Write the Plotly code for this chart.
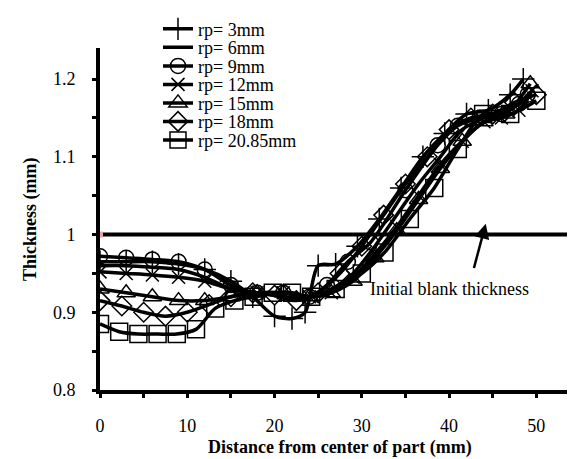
import plotly.graph_objects as go

# ---------------- data ----------------
x_rp3 = [0, 3, 6, 9, 12, 15, 17.5, 20, 22, 23.5, 25, 27, 29.5, 32, 34.5, 37, 39.5, 42, 44.5, 47, 48.5]
y_rp3 = [0.965, 0.965, 0.965, 0.962, 0.955, 0.94, 0.92, 0.895, 0.892, 0.9, 0.96, 0.962, 0.985, 1.02, 1.06, 1.1, 1.13, 1.155, 1.16, 1.18, 1.2]

x_rp6 = [0, 3, 6, 9, 12, 15, 18, 21, 24, 26.5, 29, 31.5, 34, 36.5, 39, 41.5, 44, 46, 48, 49.5]
y_rp6 = [0.96, 0.96, 0.958, 0.955, 0.945, 0.93, 0.925, 0.92, 0.92, 0.93, 0.95, 0.985, 1.025, 1.065, 1.1, 1.135, 1.15, 1.158, 1.168, 1.18]

x_rp9 = [0, 3, 6, 9, 12, 15, 18, 21, 24, 26, 28.4, 31, 35, 38.7, 41, 43.5, 46, 48, 49]
y_rp9 = [0.972, 0.97, 0.968, 0.965, 0.955, 0.935, 0.925, 0.925, 0.92, 0.935, 0.965, 0.99, 1.057, 1.115, 1.14, 1.15, 1.155, 1.168, 1.18]

x_rp12 = [0, 3, 6, 9, 12, 15, 18, 21, 24, 26.5, 29, 31.5, 34, 36.5, 39, 41.5, 44, 46, 48, 49.5]
y_rp12 = [0.952, 0.95, 0.948, 0.945, 0.94, 0.93, 0.925, 0.925, 0.92, 0.925, 0.945, 0.975, 1.01, 1.05, 1.09, 1.12, 1.145, 1.15, 1.16, 1.185]

x_rp15 = [0, 3, 6, 9, 12, 15, 18, 21, 24, 26.5, 29, 31.5, 34, 36.5, 39, 41.5, 44, 46.5, 49.3]
y_rp15 = [0.93, 0.925, 0.92, 0.915, 0.915, 0.92, 0.925, 0.925, 0.92, 0.925, 0.94, 0.97, 1.005, 1.045, 1.085, 1.12, 1.145, 1.155, 1.194]

x_rp18 = [0, 2.5, 5, 7.5, 10, 12.5, 15, 17.5, 20, 22.5, 25, 27.5, 30, 32.5, 35, 37.5, 40, 42.5, 45, 47.5, 50]
y_rp18 = [0.915, 0.908, 0.9, 0.895, 0.9, 0.91, 0.92, 0.925, 0.922, 0.915, 0.925, 0.95, 0.985, 1.025, 1.065, 1.1, 1.135, 1.15, 1.155, 1.17, 1.18]

x_rp2085 = [0, 2.2, 4.4, 6.6, 8.8, 11, 13.2, 15.4, 17.6, 19.8, 22, 24.2, 27, 30, 32.6, 35.5, 38.3, 41, 43.9, 47, 50]
y_rp2085 = [0.885, 0.875, 0.872, 0.872, 0.872, 0.878, 0.905, 0.915, 0.92, 0.925, 0.925, 0.92, 0.93, 0.95, 0.977, 1.02, 1.06, 1.11, 1.155, 1.155, 1.172]

x_blank = [0, 55]
y_blank = [1.0, 1.0]

series_names = ["rp= 3mm", "rp= 6mm", "rp= 9mm", "rp= 12mm", "rp= 15mm", "rp= 18mm", "rp= 20.85mm"]
x_ticks = [0, 10, 20, 30, 40, 50]
y_ticks = [0.8, 0.9, 1.0, 1.1, 1.2]
y_tick_text = ["0.8", "0.9", "1", "1.1", "1.2"]

# ---------------- figure ----------------
FONT = "Liberation Serif, Times New Roman, serif"
W, H = 575, 459
ML, MR, MT, MB = 92, 3, 37, 77
PW, PH = W - ML - MR, H - MT - MB

fig = go.Figure()

# initial blank thickness line
fig.add_trace(go.Scatter(
    x=x_blank, y=y_blank, mode="lines+markers", showlegend=False,
    line=dict(color="black", width=4),
    marker=dict(symbol="square", size=6, color="#e7a3aa", line=dict(width=0)),
    hoverinfo="skip"))

styles = [
    (x_rp3, y_rp3, "cross-thin-open", 16),
    (x_rp6, y_rp6, None, 0),
    (x_rp9, y_rp9, "circle-open", 15),
    (x_rp12, y_rp12, "x-thin-open", 13),
    (x_rp15, y_rp15, "triangle-up-open", 16),
    (x_rp18, y_rp18, "diamond-open", 15),
    (x_rp2085, y_rp2085, "square-open", 17),
]

legend_layouts = {}
row0, row_step = 18.0, 18.67   # legend row centres in px from top
for i, (name, (xs, ys, sym, size)) in enumerate(zip(series_names, styles)):
    lg = "legend" if i == 0 else f"legend{i + 1}"
    line = dict(color="black", width=3.5, shape="spline", smoothing=0.8)
    if sym is None:
        tr = go.Scatter(x=xs, y=ys, name=name, mode="lines", line=line, legend=lg)
    else:
        tr = go.Scatter(x=xs, y=ys, name=name, mode="lines+markers", line=line, legend=lg,
                        marker=dict(symbol=sym, size=size, color="black",
                                    line=dict(color="black", width=1.5)))
    fig.add_trace(tr)
    py = row0 + i * row_step
    legend_layouts[lg] = dict(
        x=(150 - ML) / PW, y=(H - MB - py) / PH, xanchor="left", yanchor="middle",
        bgcolor="rgba(0,0,0,0)", borderwidth=0,
        font=dict(family=FONT, size=18, color="black"))

fig.update_layout(
    width=W, height=H,
    margin=dict(l=ML, r=MR, t=MT, b=MB),
    paper_bgcolor="white", plot_bgcolor="white",
    font=dict(family=FONT, size=18, color="black"),
    showlegend=True,
    **legend_layouts,
)

fig.update_xaxes(
    range=[0, 55], tickvals=x_ticks, showgrid=False, zeroline=False,
    showline=True, linecolor="black", linewidth=4,
    ticks="outside", ticklen=4, tickwidth=3, tickcolor="black",
    ticklabelstandoff=12,
    minor=dict(dtick=5, tick0=0, ticks="outside", ticklen=4, tickwidth=3, tickcolor="black", showgrid=False),
    tickfont=dict(family=FONT, size=18))

fig.update_yaxes(
    range=[0.8, 1.24], tickvals=y_ticks, ticktext=y_tick_text, showgrid=False, zeroline=False,
    showline=True, linecolor="black", linewidth=4,
    ticks="outside", ticklen=4, tickwidth=3, tickcolor="black",
    ticklabelstandoff=13,
    minor=dict(dtick=0.05, tick0=0.8, ticks="outside", ticklen=4, tickwidth=3, tickcolor="black", showgrid=False),
    tickfont=dict(family=FONT, size=18))

# axis titles
fig.add_annotation(text="<b>Distance from center of part (mm)</b>", xref="paper", yref="paper",
                   x=0.5, y=(H - MB - 440) / PH, xanchor="center", yanchor="middle", showarrow=False,
                   font=dict(family=FONT, size=18))
fig.add_annotation(text="<b>Thickness (mm)</b>", xref="paper", yref="paper",
                   x=(22 - ML) / PW, y=0.5, xanchor="center", yanchor="middle", textangle=-90,
                   showarrow=False, font=dict(family=FONT, size=18))

# label and arrow
fig.add_annotation(text="Initial blank thickness", x=40.0, y=0.93, xref="x", yref="y",
                   showarrow=False, font=dict(family=FONT, size=18))
fig.add_annotation(x=44.2, y=1.014, ax=42.8, ay=0.955, xref="x", yref="y", axref="x", ayref="y",
                   text="", showarrow=True, arrowhead=2, arrowsize=1.2, arrowwidth=2.5, arrowcolor="black")

fig.write_html("out.html")
